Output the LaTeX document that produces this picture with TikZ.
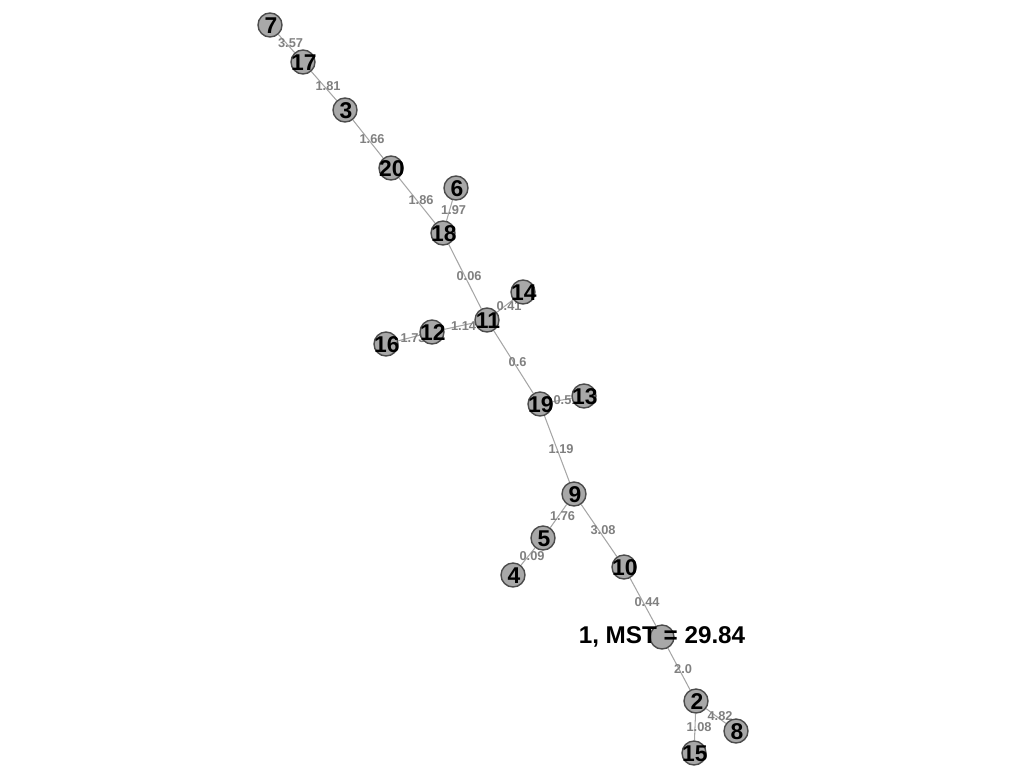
\documentclass[tikz,border=0pt]{standalone}
\usepackage{fontspec}
\setmainfont{Liberation Sans}
\usetikzlibrary{backgrounds}

\begin{document}
\begin{tikzpicture}[x=0.02cm, y=-0.02cm,
        vertex/.style={circle, draw=black!70, line width=0.8pt, fill=black!34, minimum size=0.48cm, inner sep=0pt},
        num/.style={font=\bfseries\fontsize{13}{13}\selectfont, xshift=0.5pt, yshift=-0.5pt},
        total/.style={font=\bfseries\fontsize{13.8}{14}\selectfont},
        weight/.style={midway, font=\bfseries\fontsize{7.3}{8}\selectfont, text=black!50, xshift=2.3pt, inner sep=0pt},
        edge/.style={draw=black!35, line width=0.6pt}]
    \useasboundingbox (0,0) rectangle (1024,768);
    % vertices
    \node[vertex, label={[num]center:7}] (n7) at (270,25) {};
    \node[vertex, label={[num]center:17}] (n17) at (303,62) {};
    \node[vertex, label={[num]center:3}] (n3) at (345,110) {};
    \node[vertex, label={[num]center:20}] (n20) at (391,168) {};
    \node[vertex, label={[num]center:6}] (n6) at (456,188) {};
    \node[vertex, label={[num]center:18}] (n18) at (443,233) {};
    \node[vertex, label={[num]center:14}] (n14) at (523,292) {};
    \node[vertex, label={[num]center:11}] (n11) at (487,320) {};
    \node[vertex, label={[num]center:12}] (n12) at (432,332) {};
    \node[vertex, label={[num]center:16}] (n16) at (386,344) {};
    \node[vertex, label={[num]center:13}] (n13) at (584,396) {};
    \node[vertex, label={[num]center:19}] (n19) at (540,404) {};
    \node[vertex, label={[num]center:9}] (n9) at (574,494) {};
    \node[vertex, label={[num]center:5}] (n5) at (543,538) {};
    \node[vertex, label={[num]center:4}] (n4) at (513,575) {};
    \node[vertex, label={[num]center:10}] (n10) at (624,567) {};
    \node[vertex, label={[total]center:{1, MST = 29.84}}] (n1) at (662,637) {};
    \node[vertex, label={[num]center:2}] (n2) at (696,701) {};
    \node[vertex, label={[num]center:8}] (n8) at (736,731) {};
    \node[vertex, label={[num]center:15}] (n15) at (694,753) {};
    % tree edges and their weights
    \begin{pgfonlayer}{background}
        \draw[edge] (n7) -- (n17) node[weight] {3.57};
        \draw[edge] (n17) -- (n3) node[weight] {1.81};
        \draw[edge] (n3) -- (n20) node[weight] {1.66};
        \draw[edge] (n20) -- (n18) node[weight] {1.86};
        \draw[edge] (n6) -- (n18) node[weight] {1.97};
        \draw[edge] (n18) -- (n11) node[weight] {0.06};
        \draw[edge] (n11) -- (n14) node[weight] {0.41};
        \draw[edge] (n11) -- (n12) node[weight] {1.14};
        \draw[edge] (n12) -- (n16) node[weight] {1.73};
        \draw[edge] (n11) -- (n19) node[weight] {0.6};
        \draw[edge] (n19) -- (n13) node[weight] {0.51};
        \draw[edge] (n19) -- (n9) node[weight] {1.19};
        \draw[edge] (n9) -- (n5) node[weight] {1.76};
        \draw[edge] (n5) -- (n4) node[weight] {0.09};
        \draw[edge] (n9) -- (n10) node[weight] {3.08};
        \draw[edge] (n10) -- (n1) node[weight] {0.44};
        \draw[edge] (n1) -- (n2) node[weight] {2.0};
        \draw[edge] (n2) -- (n8) node[weight] {4.82};
        \draw[edge] (n2) -- (n15) node[weight] {1.08};
    \end{pgfonlayer}
\end{tikzpicture}
\end{document}
